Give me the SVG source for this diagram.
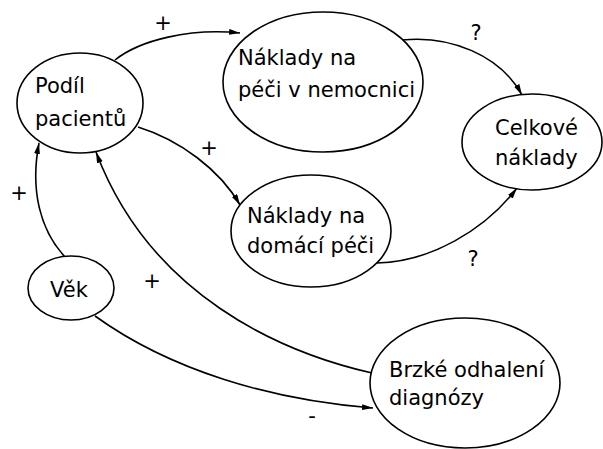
<svg xmlns="http://www.w3.org/2000/svg" width="603" height="449" viewBox="0 0 603 449">
<defs>
<marker id="arr" markerUnits="userSpaceOnUse" markerWidth="12" markerHeight="8" refX="11" refY="3" orient="auto">
<path d="M0,0 L11,3 L0,6 z" fill="#000"/>
</marker>
<style>
.n{fill:#fff;stroke:#000;stroke-width:1.6}
.t{font-family:"DejaVu Sans",sans-serif;font-size:21px;fill:#000}
.e{fill:none;stroke:#000;stroke-width:1.6;marker-end:url(#arr)}
.l{font-family:"DejaVu Sans",sans-serif;font-size:21px;fill:#000;text-anchor:middle}
</style>
</defs>
<rect width="603" height="449" fill="#fff"/>
<g id="connectors">
<path class="e" d="M115,60 C140,40 190,28 240,33"/>
<path class="e" d="M402,40 C450,35 500,55 522,95"/>
<path class="e" d="M138,127 C180,140 220,170 240,205"/>
<path class="e" d="M377,263 C430,262 485,230 517,188"/>
<path class="e" d="M65,257 C40,230 30,190 39,143"/>
<path class="e" d="M372,373 C280,352 150,295 96,152"/>
<path class="e" d="M95,316 C170,370 270,400 373,408"/>
<text class="l" x="163" y="30">+</text>
<text class="l" x="476" y="40">?</text>
<text class="l" x="209" y="155">+</text>
<text class="l" x="473" y="266">?</text>
<text class="l" x="19" y="200">+</text>
<text class="l" x="152" y="288" fill="#333">+</text>
<text class="l" x="312" y="423">-</text>
</g>
<g id="podil">
<ellipse class="n" cx="80" cy="103" rx="63" ry="50"/>
<text class="t" x="35" y="93">Podíl</text>
<text class="t" x="35" y="126">pacientů</text>
</g>
<g id="nemocnice">
<ellipse class="n" cx="323" cy="82" rx="100" ry="70"/>
<text class="t" x="238" y="65">Náklady na</text>
<text class="t" x="238" y="97">péči v nemocnici</text>
</g>
<g id="celkove">
<ellipse class="n" cx="532" cy="142" rx="70" ry="48"/>
<text class="t" x="495" y="135">Celkové</text>
<text class="t" x="495" y="165">náklady</text>
</g>
<g id="domaci">
<ellipse class="n" cx="311" cy="231" rx="80" ry="56"/>
<text class="t" x="247" y="223">Náklady na</text>
<text class="t" x="247" y="253">domácí péči</text>
</g>
<g id="vek">
<ellipse class="n" cx="71" cy="288" rx="43" ry="32"/>
<text class="t" x="50" y="297">Věk</text>
</g>
<g id="brzke">
<ellipse class="n" cx="465" cy="383" rx="95" ry="65"/>
<text class="t" x="389" y="377">Brzké odhalení</text>
<text class="t" x="389" y="405">diagnózy</text>
</g>
</svg>
